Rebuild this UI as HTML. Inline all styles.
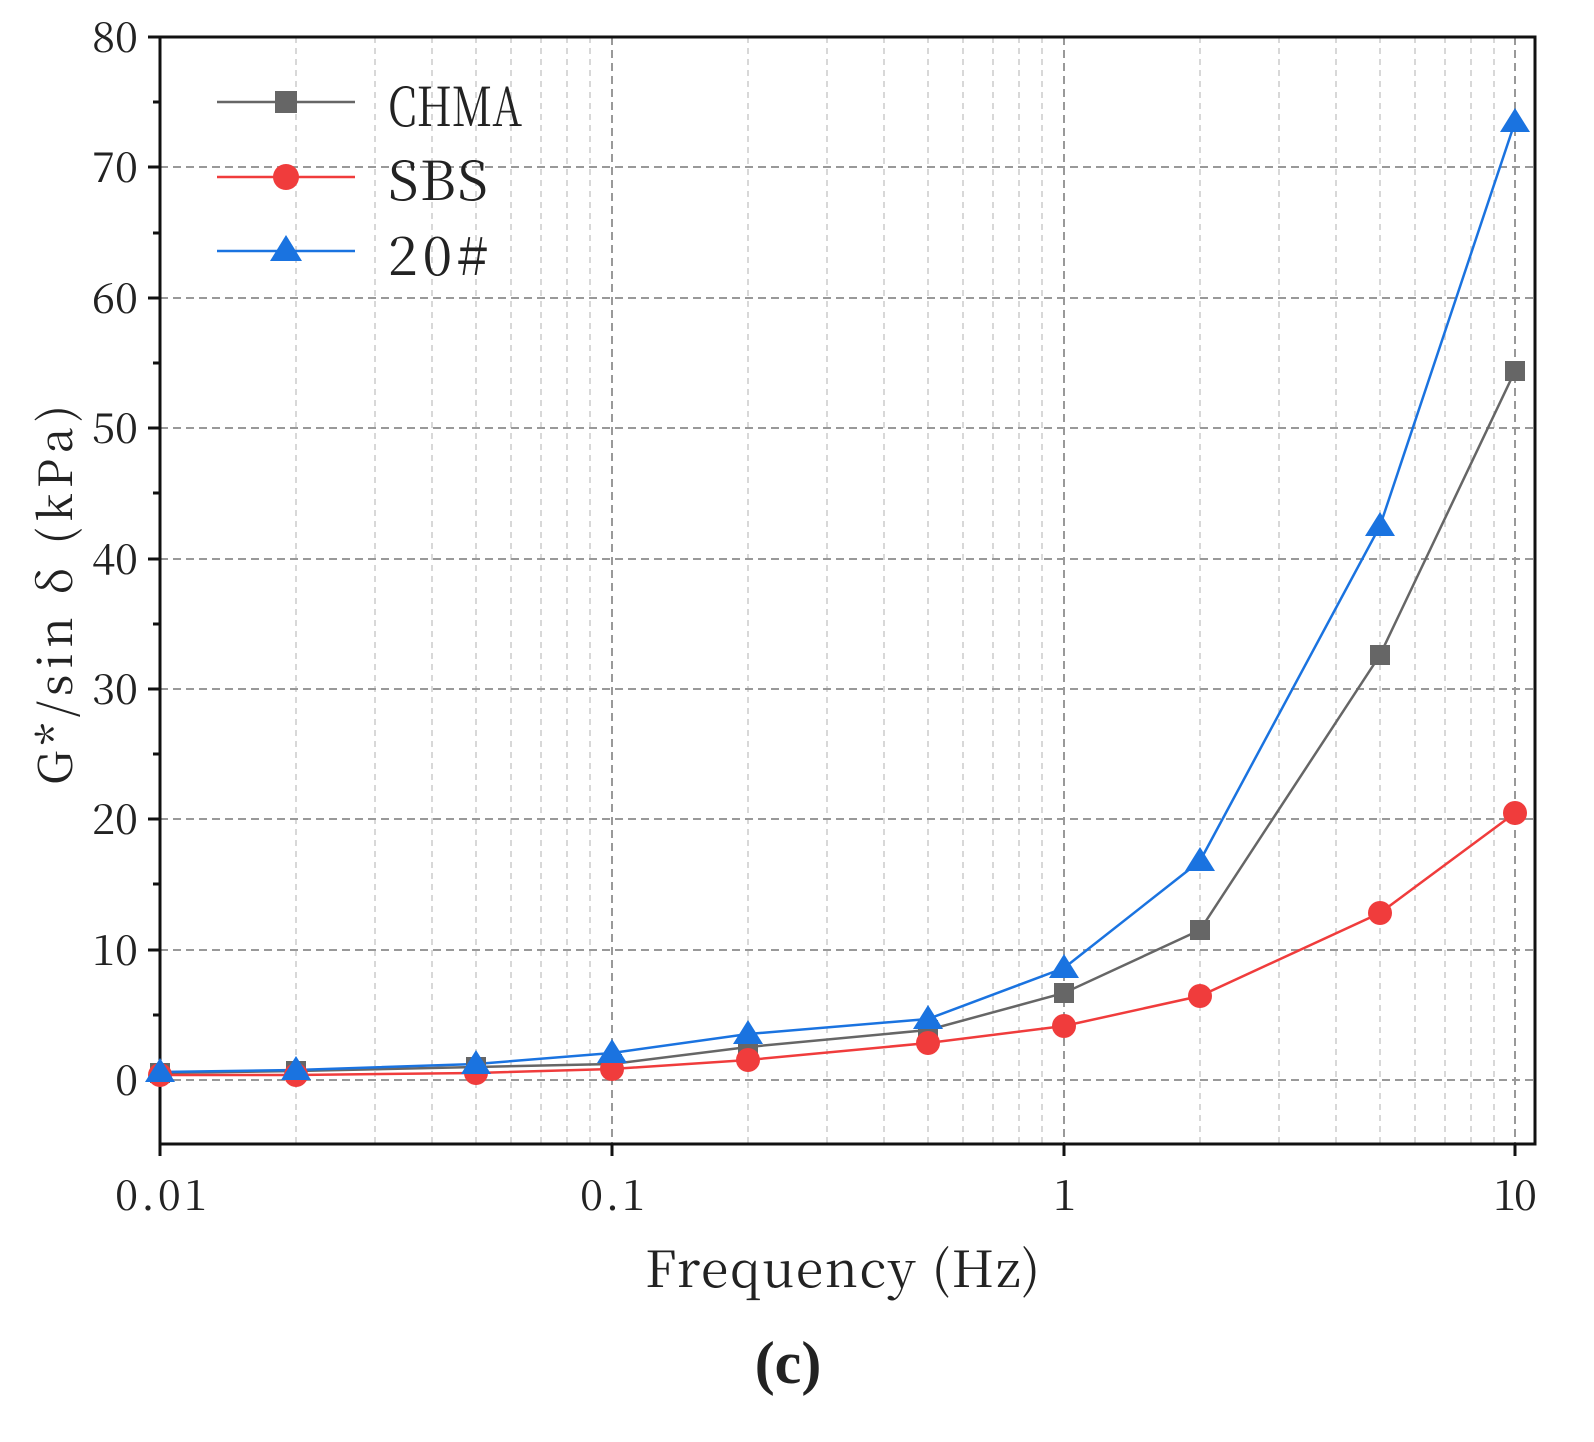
<!DOCTYPE html>
<html><head><meta charset="utf-8"><style>
html,body{margin:0;padding:0;background:#fff;}
svg{display:block;}
text{font-family:"Noto Serif CJK SC","Liberation Serif",serif;fill:#222;}
</style></head><body>
<svg width="1594" height="1442" viewBox="0 0 1594 1442" xmlns="http://www.w3.org/2000/svg">
<rect width="1594" height="1442" fill="#fff"/>
<g stroke="#ccc" stroke-width="1.5" stroke-dasharray="6,5">
<line x1="296" y1="37" x2="296" y2="1144"/><line x1="375" y1="37" x2="375" y2="1144"/><line x1="432" y1="37" x2="432" y2="1144"/><line x1="476" y1="37" x2="476" y2="1144"/><line x1="511" y1="37" x2="511" y2="1144"/><line x1="541" y1="37" x2="541" y2="1144"/><line x1="567" y1="37" x2="567" y2="1144"/><line x1="590" y1="37" x2="590" y2="1144"/>
<line x1="748" y1="37" x2="748" y2="1144"/><line x1="827" y1="37" x2="827" y2="1144"/><line x1="884" y1="37" x2="884" y2="1144"/><line x1="928" y1="37" x2="928" y2="1144"/><line x1="963" y1="37" x2="963" y2="1144"/><line x1="993" y1="37" x2="993" y2="1144"/><line x1="1019" y1="37" x2="1019" y2="1144"/><line x1="1042" y1="37" x2="1042" y2="1144"/>
<line x1="1200" y1="37" x2="1200" y2="1144"/><line x1="1279" y1="37" x2="1279" y2="1144"/><line x1="1336" y1="37" x2="1336" y2="1144"/><line x1="1380" y1="37" x2="1380" y2="1144"/><line x1="1415" y1="37" x2="1415" y2="1144"/><line x1="1445" y1="37" x2="1445" y2="1144"/><line x1="1471" y1="37" x2="1471" y2="1144"/><line x1="1494" y1="37" x2="1494" y2="1144"/>
</g>
<g stroke="#999" stroke-width="2" stroke-dasharray="8,5">
<line x1="612" y1="37" x2="612" y2="1144"/><line x1="1064" y1="37" x2="1064" y2="1144"/><line x1="1515" y1="37" x2="1515" y2="1144"/>
<line x1="160" y1="167" x2="1535" y2="167"/><line x1="160" y1="298" x2="1535" y2="298"/><line x1="160" y1="428" x2="1535" y2="428"/><line x1="160" y1="559" x2="1535" y2="559"/><line x1="160" y1="689" x2="1535" y2="689"/><line x1="160" y1="819" x2="1535" y2="819"/><line x1="160" y1="950" x2="1535" y2="950"/><line x1="160" y1="1080" x2="1535" y2="1080"/>
</g>
<rect x="160" y="37" width="1375" height="1107" fill="none" stroke="#111" stroke-width="3"/>
<g stroke="#111" stroke-width="3">
<line x1="148" y1="37" x2="160" y2="37"/><line x1="148" y1="167" x2="160" y2="167"/><line x1="148" y1="298" x2="160" y2="298"/><line x1="148" y1="428" x2="160" y2="428"/><line x1="148" y1="559" x2="160" y2="559"/><line x1="148" y1="689" x2="160" y2="689"/><line x1="148" y1="819" x2="160" y2="819"/><line x1="148" y1="950" x2="160" y2="950"/><line x1="148" y1="1080" x2="160" y2="1080"/>
<line x1="153" y1="102" x2="160" y2="102"/><line x1="153" y1="233" x2="160" y2="233"/><line x1="153" y1="363" x2="160" y2="363"/><line x1="153" y1="493" x2="160" y2="493"/><line x1="153" y1="624" x2="160" y2="624"/><line x1="153" y1="754" x2="160" y2="754"/><line x1="153" y1="884" x2="160" y2="884"/><line x1="153" y1="1015" x2="160" y2="1015"/>
<line x1="160" y1="1144" x2="160" y2="1156"/><line x1="612" y1="1144" x2="612" y2="1156"/><line x1="1064" y1="1144" x2="1064" y2="1156"/><line x1="1515" y1="1144" x2="1515" y2="1156"/>
</g>
<g font-size="42">
<text x="92" y="52" textLength="46">80</text><text x="92" y="182" textLength="46">70</text><text x="92" y="313" textLength="46">60</text><text x="92" y="443" textLength="46">50</text><text x="92" y="574" textLength="46">40</text><text x="92" y="704" textLength="46">30</text><text x="92" y="834" textLength="46">20</text><text x="92" y="965" textLength="46">10</text><text x="115" y="1095" textLength="23">0</text>
<text x="115" y="1210" textLength="92">0.01</text><text x="580" y="1210" textLength="65">0.1</text><text x="1053" y="1210" textLength="22">1</text><text x="1493" y="1210" textLength="44">10</text>
</g>
<text x="645" y="1287" font-size="50" textLength="395">Frequency (Hz)</text>
<text transform="translate(72,785) rotate(-90)" font-size="46" textLength="380">G*/sin δ  (kPa)</text>
<text x="788" y="1383" font-size="60" font-weight="bold" text-anchor="middle" style="font-family:'Liberation Serif',serif">(c)</text>
<polyline fill="none" stroke="#666" stroke-width="2.5" points="160,1073 296,1071 476,1067 612,1064 748,1047 928,1030 1064,993 1200,930 1380,655 1515,371"/>
<polyline fill="none" stroke="#f03c3c" stroke-width="2.5" points="160,1075 296,1075 476,1073 612,1069 748,1060 928,1043 1064,1026 1200,996 1380,913 1515,813"/>
<polyline fill="none" stroke="#1a73e0" stroke-width="2.5" points="160,1072 296,1070 476,1064 612,1053 748,1034 928,1019 1064,968 1200,861 1380,526 1515,122"/>
<g fill="#666">
<rect x="150" y="1063" width="20" height="20"/><rect x="286" y="1061" width="20" height="20"/><rect x="466" y="1057" width="20" height="20"/><rect x="602" y="1054" width="20" height="20"/><rect x="738" y="1037" width="20" height="20"/><rect x="918" y="1020" width="20" height="20"/><rect x="1054" y="983" width="20" height="20"/><rect x="1190" y="920" width="20" height="20"/><rect x="1370" y="645" width="20" height="20"/><rect x="1505" y="361" width="20" height="20"/>
</g>
<g fill="#f03c3c">
<circle cx="160" cy="1075" r="12"/><circle cx="296" cy="1075" r="12"/><circle cx="476" cy="1073" r="12"/><circle cx="612" cy="1069" r="12"/><circle cx="748" cy="1060" r="12"/><circle cx="928" cy="1043" r="12"/><circle cx="1064" cy="1026" r="12"/><circle cx="1200" cy="996" r="12"/><circle cx="1380" cy="913" r="12"/><circle cx="1515" cy="813" r="12"/>
</g>
<g fill="#1a73e0">
<polygon points="160,1058 175,1082 145,1082"/><polygon points="296,1056 311,1080 281,1080"/><polygon points="476,1050 491,1074 461,1074"/><polygon points="612,1039 627,1063 597,1063"/><polygon points="748,1020 763,1044 733,1044"/><polygon points="928,1005 943,1029 913,1029"/><polygon points="1064,954 1079,978 1049,978"/><polygon points="1200,847 1215,871 1185,871"/><polygon points="1380,512 1395,536 1365,536"/><polygon points="1515,108 1530,132 1500,132"/>
</g>
<line x1="217" y1="102" x2="355" y2="102" stroke="#666" stroke-width="2.5"/><rect x="275" y="91" width="22" height="22" fill="#666"/>
<line x1="217" y1="177" x2="355" y2="177" stroke="#f03c3c" stroke-width="2.5"/><circle cx="286" cy="177" r="13" fill="#f03c3c"/>
<line x1="217" y1="251" x2="355" y2="251" stroke="#1a73e0" stroke-width="2.5"/><polygon points="286,235 302,261 270,261" fill="#1a73e0"/>
<g font-size="54"><text x="388" y="126" textLength="134" lengthAdjust="spacingAndGlyphs">CHMA</text><text x="388" y="200" textLength="100">SBS</text><text x="388" y="275" textLength="100">20#</text></g>
</svg>
</body></html>
